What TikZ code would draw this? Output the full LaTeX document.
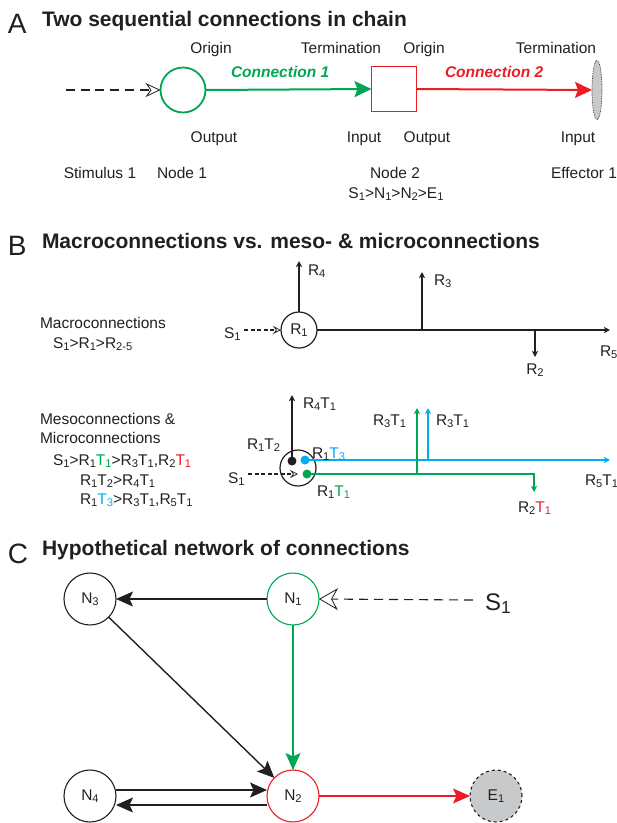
\documentclass[tikz,border=0pt]{standalone}
\usepackage{fontspec}
\setmainfont{Liberation Sans}
\usepackage{graphicx}
\usetikzlibrary{arrows.meta,shapes.geometric,calc}
\definecolor{cgreen}{HTML}{00A651}
\definecolor{cred}{HTML}{ED1C24}
\definecolor{cblue}{HTML}{00AEEF}
\definecolor{cgray}{HTML}{C7C9CA}
\definecolor{ink}{HTML}{231F20}
\newcommand{\sbs}[1]{\raisebox{-0.3ex}{\scalebox{0.72}{#1}}}
\begin{document}
\begin{tikzpicture}[x=1pt,y=-1pt,
  every node/.style={text=ink, inner sep=0pt, outer sep=0pt},
  lbl/.style={font=\fontsize{15.5}{18}\selectfont},
  ttl/.style={font=\fontsize{21}{24}\selectfont\bfseries, anchor=base west},
  letter/.style={font=\fontsize{28}{30}\selectfont, anchor=base west},
  conn/.style={font=\fontsize{15.5}{18}\selectfont\bfseries\itshape, anchor=base west},
  bigtip/.style={-{Stealth[length=17pt,width=16pt,inset=3pt]}},
  ctip/.style={-{Stealth[length=17pt,width=15pt,inset=3.5pt]}},
  stip/.style={-{Stealth[length=6pt,width=6pt,inset=1.5pt]}},
  bline/.style={draw=ink, line width=1.4pt},
  cline/.style={draw=ink, line width=1.4pt},
  cnode/.style={circle, line width=1.1pt, minimum size=52pt, font=\fontsize{15.5}{18}\selectfont},
  dot/.style={circle, minimum size=9pt},
]
\useasboundingbox (0,0) rectangle (617,823);

% ---------------- Panel A ----------------
\node[letter] (lA) at (8,33) {A};
\node[ttl] (tA) at (42,26) {Two sequential connections in chain};

\node[lbl, anchor=base] (oriA1) at (211,53) {Origin};
\node[lbl, anchor=base] (terA1) at (341,53) {Termination};
\node[lbl, anchor=base] (oriA2) at (424,53) {Origin};
\node[lbl, anchor=base] (terA2) at (556,53) {Termination};
\node[conn, text=cgreen] (cA1) at (231,77) {Connection 1};
\node[conn, text=cred] (cA2) at (445,77) {Connection 2};

\node[circle, draw=cgreen, line width=1.8pt, minimum size=45pt] (nodeA1) at (183,90) {};
\node[draw=cred, line width=1.8pt, minimum size=45pt] (nodeA2) at (394,89) {};
\node[ellipse, draw=ink, densely dotted, fill=cgray, line width=0.7pt, minimum width=10pt, minimum height=59pt] (effA) at (597,90) {};
\coordinate (stimA) at (66,90);
\draw[ink, line width=2pt, dash pattern=on 9pt off 5.7pt, -{Stealth[open,length=15pt,width=14pt,inset=5pt,line width=0.8pt]}] (stimA) -- (nodeA1.west);
\draw[cgreen, line width=2pt, bigtip] (nodeA1.east) -- (nodeA2.west);
\draw[cred, line width=2pt, bigtip] (nodeA2.east) -- (effA.west);

\node[lbl, anchor=base] (outA1) at (214,142) {Output};
\node[lbl, anchor=base] (inA1) at (364,142) {Input};
\node[lbl, anchor=base] (outA2) at (427,142) {Output};
\node[lbl, anchor=base] (inA2) at (578,142) {Input};
\node[lbl, anchor=base] (stA) at (100,178) {Stimulus 1};
\node[lbl, anchor=base] (n1A) at (182,178) {Node 1};
\node[lbl, anchor=base] (n2A) at (395,178) {Node 2};
\node[lbl, anchor=base] (chA) at (396,198) {S\sbs{1}>N\sbs{1}>N\sbs{2}>E\sbs{1}};
\node[lbl, anchor=base west] (e1A) at (551,178) {Effector 1};

% ---------------- Panel B ----------------
\node[letter] (lB) at (8,255) {B};
\node[ttl] (tB) at (42,248) {Macroconnections vs. meso- \& microconnections};

\node[lbl, anchor=base west] (macro) at (40,328) {Macroconnections};
\node[lbl, anchor=base west] (macroC) at (53,348) {S\sbs{1}>R\sbs{1}>R\sbs{2-5}};

\node[circle, draw=ink, line width=1.2pt, minimum size=36pt, lbl] (R1) at (299,330) {R\sbs{1}};
\coordinate (R4end) at (299,261);
\coordinate (R5end) at (610,330);
\coordinate (br3) at (422,330);
\coordinate (R3end) at (422,272);
\coordinate (br2) at (535,330);
\coordinate (R2end) at (535,357);
\draw[bline, stip] (R1.north) -- (R4end);
\draw[bline, stip] (R1.east) -- (R5end);
\draw[bline, stip] (br3) -- (R3end);
\draw[bline, stip] (br2) -- (R2end);
\node[lbl, anchor=base west] (S1m) at (224,338) {S\sbs{1}};
\coordinate (S1mend) at (244,330);
\draw[ink, line width=1.2pt, dash pattern=on 4pt off 2.5pt, -{Stealth[open,length=8pt,width=8pt,inset=3pt,line width=0.7pt]}] (S1mend) -- (R1.west);
\node[lbl, anchor=base west] (R4l) at (308,275) {R\sbs{4}};
\node[lbl, anchor=base west] (R3l) at (434,285) {R\sbs{3}};
\node[lbl, anchor=base] (R2l) at (535,374) {R\sbs{2}};
\node[lbl, anchor=base west] (R5l) at (600,356) {R\sbs{5}};

\node[lbl, anchor=base west] (meso1) at (40,424) {Mesoconnections \&};
\node[lbl, anchor=base west] (meso2) at (40,443) {Microconnections};
\node[lbl, anchor=base west] (meso3) at (53,465) {S\sbs{1}>R\sbs{1}\textcolor{cgreen}{T\sbs{1}}>R\sbs{3}T\sbs{1},R\sbs{2}\textcolor{cred}{T\sbs{1}}};
\node[lbl, anchor=base west] (meso4) at (80,485) {R\sbs{1}T\sbs{2}>R\sbs{4}T\sbs{1}};
\node[lbl, anchor=base west] (meso5) at (80,504) {R\sbs{1}\textcolor{cblue}{T\sbs{3}}>R\sbs{3}T\sbs{1},R\sbs{5}T\sbs{1}};

\node[circle, draw=ink, line width=1.2pt, minimum size=36pt] (R1b) at (298,468) {};
\coordinate (S1bstart) at (248,474);
\coordinate (S1btip) at (298,474);
\draw[ink, line width=1.2pt, dash pattern=on 4pt off 2.5pt, -{Stealth[open,length=8pt,width=8pt,inset=3pt,line width=0.7pt]}] (S1bstart) -- (S1btip);
\node[dot, fill=ink] (dotK) at (292,461) {};
\node[dot, fill=cblue] (dotB) at (305,460) {};
\node[dot, fill=cgreen] (dotG) at (307,474) {};
\coordinate (R4T1end) at (292,395);
\coordinate (R5T1end) at (610,460);
\coordinate (bbr) at (428,460);
\coordinate (bR3end) at (428,408);
\coordinate (gcorner) at (534,474);
\coordinate (gR2end) at (534,492);
\coordinate (gbr) at (417,474);
\coordinate (gR3end) at (417,408);
\draw[bline, stip] (dotK.center) -- (R4T1end);
\draw[cblue, line width=1.4pt, stip] (dotB.center) -- (R5T1end);
\draw[cblue, line width=1.4pt, stip] (bbr) -- (bR3end);
\draw[cgreen, line width=1.4pt, stip] (dotG.center) -- (gcorner) -- (gR2end);
\draw[cgreen, line width=1.4pt, stip] (gbr) -- (gR3end);

\node[lbl, anchor=base west] (S1b) at (228,483) {S\sbs{1}};
\node[lbl, anchor=base west] (R4T1) at (303,408) {R\sbs{4}T\sbs{1}};
\node[lbl, anchor=base west] (R1T2) at (247,449) {R\sbs{1}T\sbs{2}};
\node[lbl, anchor=base west] (R1T3) at (312,458) {R\sbs{1}\textcolor{cblue}{T\sbs{3}}};
\node[lbl, anchor=base west] (R1T1) at (317,496) {R\sbs{1}\textcolor{cgreen}{T\sbs{1}}};
\node[lbl, anchor=base west] (R3T1a) at (373,425) {R\sbs{3}T\sbs{1}};
\node[lbl, anchor=base west] (R3T1b) at (436,425) {R\sbs{3}T\sbs{1}};
\node[lbl, anchor=base west] (R2T1) at (518,512) {R\sbs{2}\textcolor{cred}{T\sbs{1}}};
\node[lbl, anchor=base west] (R5T1) at (585,485) {R\sbs{5}T\sbs{1}};

% ---------------- Panel C ----------------
\node[letter] (lC) at (8,563) {C};
\node[ttl] (tC) at (42,555) {Hypothetical network of connections};

\node[cnode, draw=ink] (N3) at (90,599) {N\sbs{3}};
\node[cnode, draw=cgreen] (N1) at (293,599) {N\sbs{1}};
\node[cnode, draw=ink] (N4) at (90,796) {N\sbs{4}};
\node[cnode, draw=cred] (N2) at (293,796) {N\sbs{2}};
\node[cnode, draw=ink, dashed, fill=cgray] (E1) at (496,796) {E\sbs{1}};
\node[font=\fontsize{24}{26}\selectfont, anchor=base west] (S1c) at (485,610) {S\sbs{1}};
\coordinate (S1cstart) at (473,600);
\draw[ink, line width=1.1pt, dash pattern=on 9pt off 6pt, -{Stealth[open,length=19pt,width=22pt,inset=6pt,line width=0.8pt]}] (S1cstart) -- (N1.east);

\draw[cline, ctip] (N1) -- (N3);
\draw[cline, ctip] (N3) -- (N2);
\draw[cgreen, line width=1.6pt, ctip] (N1) -- (N2);
\draw[cline, ctip] ([yshift=6pt]N4.east) -- ([yshift=6pt]N2.west);
\draw[cline, ctip] ([yshift=-9pt]N2.west) -- ([yshift=-9pt]N4.east);
\draw[cred, line width=1.6pt, ctip] (N2) -- (E1);
\end{tikzpicture}
\end{document}
